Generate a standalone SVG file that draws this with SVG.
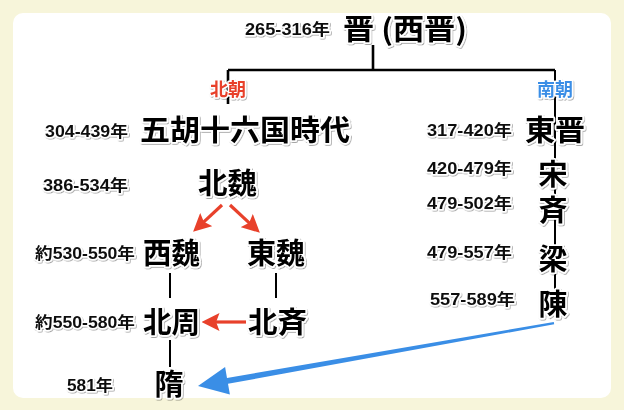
<svg xmlns="http://www.w3.org/2000/svg" width="624" height="410" viewBox="0 0 624 410">
  <style>
    .yr { font-family: "Liberation Sans", "Noto Sans CJK JP", sans-serif; font-weight: bold; font-size: 16px; fill: #111; stroke: #fff; stroke-width: 3; paint-order: stroke; stroke-linejoin: round; }
    .big { font-family: "Noto Sans CJK JP", "Noto Sans CJK SC", sans-serif; font-weight: bold; font-size: 29px; fill: #000; stroke: #fff; stroke-width: 3.5; paint-order: stroke; stroke-linejoin: round; }
    .lbl { font-family: "Noto Sans CJK JP", sans-serif; font-weight: bold; font-size: 18px; stroke: #fff; stroke-width: 3; paint-order: stroke; stroke-linejoin: round; }
    .tree { stroke: #000; stroke-width: 2.6; fill: none; }
    .thin { stroke: #000; stroke-width: 2; fill: none; }
    .red { stroke: #e8412b; stroke-width: 3.2; fill: none; marker-end: url(#rh); }
  </style>
  <defs>
    <filter id="sh" x="-10%" y="-20%" width="120%" height="150%">
      <feDropShadow dx="0.8" dy="1" stdDeviation="0.7" flood-color="#000" flood-opacity="0.35"/>
    </filter>
    <marker id="rh" markerUnits="userSpaceOnUse" markerWidth="18" markerHeight="18" viewBox="0 0 16 16" refX="4" refY="8" orient="auto">
      <path d="M0,0 L16,8 L0,16 L3,8 z" fill="#e8412b"/>
    </marker>
  </defs>

  <rect x="0" y="0" width="624" height="410" fill="#f7f5da"/>
  <rect x="13" y="13" width="598" height="385" rx="10" ry="10" fill="#ffffff"/>

  <g id="connectors">
    <line class="tree" x1="373" y1="45" x2="373" y2="70"/>
    <line class="tree" x1="228" y1="70" x2="555" y2="70"/>
    <line class="tree" x1="228" y1="70" x2="228" y2="104"/>
    <line class="thin" x1="555" y1="70" x2="555" y2="289"/>
    <line class="thin" x1="170" y1="273" x2="170" y2="298"/>
    <line class="thin" x1="276" y1="273" x2="276" y2="298"/>
    <line class="thin" x1="170" y1="340" x2="170" y2="367"/>
    <line class="red" x1="222" y1="205" x2="203" y2="222.6"/>
    <line class="red" x1="230" y1="205" x2="250" y2="223.6"/>
    <line class="red" x1="246" y1="322" x2="215" y2="322"/>
    <polygon points="198,386 225.1,367 227,378 553.8,322 554.2,324.2 228,383.8 229.9,394.6" fill="#3a8ee6"/>
  </g>

  <g filter="url(#sh)">
    <g id="jin">
      <text class="yr" x="245" y="35" textLength="85" lengthAdjust="spacingAndGlyphs">265-316年</text>
      <text class="big" x="343" y="40" textLength="124" lengthAdjust="spacingAndGlyphs">晋 (西晋)</text>
    </g>
    <g id="label-north">
      <text class="lbl" x="228" y="96" text-anchor="middle" fill="#e8412b">北朝</text>
    </g>
    <g id="label-south">
      <text class="lbl" x="555" y="96" text-anchor="middle" fill="#3a8ee6">南朝</text>
    </g>
    <g id="wuhu">
      <text class="yr" x="45" y="137" textLength="83" lengthAdjust="spacingAndGlyphs">304-439年</text>
      <text class="big" x="140" y="141" textLength="210" lengthAdjust="spacingAndGlyphs">五胡十六国時代</text>
    </g>
    <g id="beiwei">
      <text class="yr" x="43" y="191" textLength="85" lengthAdjust="spacingAndGlyphs">386-534年</text>
      <text class="big" x="198" y="194" textLength="59" lengthAdjust="spacingAndGlyphs">北魏</text>
    </g>
    <g id="xiwei">
      <text class="yr" x="35" y="259" textLength="100" lengthAdjust="spacingAndGlyphs">約530-550年</text>
      <text class="big" x="143" y="264" textLength="57" lengthAdjust="spacingAndGlyphs">西魏</text>
    </g>
    <g id="dongwei">
      <text class="big" x="247" y="264" textLength="58" lengthAdjust="spacingAndGlyphs">東魏</text>
    </g>
    <g id="beizhou">
      <text class="yr" x="35" y="328" textLength="100" lengthAdjust="spacingAndGlyphs">約550-580年</text>
      <text class="big" x="143" y="333" textLength="57" lengthAdjust="spacingAndGlyphs">北周</text>
    </g>
    <g id="beiqi">
      <text class="big" x="248" y="333" textLength="59" lengthAdjust="spacingAndGlyphs">北斉</text>
    </g>
    <g id="sui">
      <text class="yr" x="67" y="391" textLength="46" lengthAdjust="spacingAndGlyphs">581年</text>
      <text class="big" x="169" y="395" text-anchor="middle">隋</text>
    </g>
    <g id="dongjin">
      <text class="yr" x="427" y="136" textLength="85" lengthAdjust="spacingAndGlyphs">317-420年</text>
      <text class="big" x="525" y="141" textLength="60" lengthAdjust="spacingAndGlyphs">東晋</text>
    </g>
    <g id="song">
      <text class="yr" x="427" y="174" textLength="85" lengthAdjust="spacingAndGlyphs">420-479年</text>
      <text class="big" x="553" y="185" text-anchor="middle">宋</text>
    </g>
    <g id="qi">
      <text class="yr" x="427" y="209" textLength="85" lengthAdjust="spacingAndGlyphs">479-502年</text>
      <text class="big" x="553" y="221" text-anchor="middle">斉</text>
    </g>
    <g id="liang">
      <text class="yr" x="427" y="258" textLength="85" lengthAdjust="spacingAndGlyphs">479-557年</text>
      <text class="big" x="553" y="270" text-anchor="middle">梁</text>
    </g>
    <g id="chen">
      <text class="yr" x="430" y="305" textLength="85" lengthAdjust="spacingAndGlyphs">557-589年</text>
      <text class="big" x="553" y="315" text-anchor="middle">陳</text>
    </g>
  </g>
</svg>
